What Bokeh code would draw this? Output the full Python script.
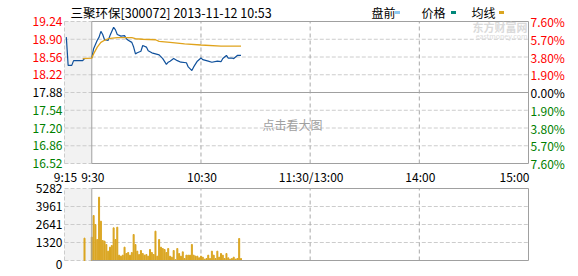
from bokeh.plotting import figure
from bokeh.models import Range1d
from bokeh.core.properties import value
from bokeh.embed import file_html
from bokeh.resources import INLINE

# ---------------- data ----------------
title_text = "三聚环保[300072] 2013-11-12 10:53"
prev_close = 17.88
price_ticks = [19.24, 18.90, 18.56, 18.22, 17.88, 17.54, 17.20, 16.86, 16.52]
pct_labels = ["7.60%", "5.70%", "3.80%", "1.90%", "0.00%", "1.90%", "3.80%", "5.70%", "7.60%"]
vol_ticks = [5282, 3961, 2641, 1320, 0]
time_ticks = [-15, 0, 60, 120, 180, 240]
time_labels = ["9:15", "9:30", "10:30", "11:30/13:00", "14:00", "15:00"]
legend_labels = ["盘前", "价格", "均线"]
legend_colors = ["#8ec8f0", "#00877a", "#daa520"]

pre_minutes = [-14, -13, -11, -10, -5, -4]
pre_prices = [18.94, 18.40, 18.40, 18.49, 18.49, 18.53]

minutes = [0, 1, 3, 4, 5, 6, 7, 9, 10, 12, 13, 14, 16, 18, 19, 20, 22, 23, 24, 25,
           27, 28, 30, 31, 33, 35, 37, 39, 41, 42, 43, 45, 47, 49, 52, 53, 55, 56,
           58, 60, 61, 64, 66, 69, 71, 72, 74, 75, 77, 78, 80, 82]
prices = [18.54, 18.72, 18.88, 18.94, 19.05, 18.99, 18.89, 18.88, 18.97, 19.13,
          19.08, 18.99, 18.96, 18.97, 18.91, 18.88, 18.84, 18.75, 18.62, 18.64,
          18.67, 18.78, 18.75, 18.68, 18.64, 18.62, 18.60, 18.53, 18.42, 18.46,
          18.48, 18.53, 18.49, 18.46, 18.45, 18.37, 18.30, 18.37, 18.48, 18.54,
          18.51, 18.48, 18.46, 18.48, 18.47, 18.53, 18.59, 18.54, 18.54, 18.53,
          18.59, 18.59]

avg_minutes = [-5, 0, 1, 3, 5, 7, 9, 14, 22, 24, 28, 35, 37, 43, 51, 60, 71, 82]
avg_prices = [18.53, 18.54, 18.62, 18.75, 18.84, 18.88, 18.91, 18.93, 18.93, 18.91,
              18.90, 18.89, 18.86, 18.84, 18.81, 18.79, 18.77, 18.77]

pre_vol_minutes = [-4]
pre_volumes = [1640]
volumes = [1712, 3301, 2641, 1540, 4646, 2885, 1467, 1418, 1174, 685,
           978, 1100, 2396, 1540, 2445, 391, 318, 391, 978, 513,
           587, 391, 587, 1907, 1174, 685, 440, 733, 513, 391,
           440, 318, 807, 587, 440, 2152, 318, 1540, 978, 880,
           807, 587, 880, 318, 245, 733, 60, 880, 513, 318,
           636, 147, 391, 391, 391, 1174, 391, 318, 318, 200,
           318, 245, 98, 147, 391, 147, 685, 391, 147, 685,
           245, 513, 391, 147, 513, 196, 98, 147, 245, 98,
           147, 1614, 147]
vol_minutes = list(range(len(volumes)))

# ---------------- layout (pixels) ----------------
W, H = 578, 276
FX0, FX1 = 64, 528          # frame left/right pixel of minute range
M0, M1 = time_ticks[0], time_ticks[-1]
PY0, PY1 = 21, 163          # price panel top/bottom pixel
VY0, VY1 = 188, 260         # volume panel top/bottom pixel

mpp = (M1 - M0) / (FX1 - FX0)
x_start = M0 - FX0 * mpp
x_end = M1 + (W - FX1) * mpp
pu = (price_ticks[0] - price_ticks[-1]) / (PY1 - PY0)
y_top = price_ticks[0] + PY0 * pu
y_bot = price_ticks[-1] - (H - PY1) * pu
vu = (vol_ticks[0] - vol_ticks[-1]) / (VY1 - VY0)
v_top = vol_ticks[0] + VY0 * vu
v_bot = vol_ticks[-1] - (H - VY1) * vu


def mx(px):
    return x_start + px * mpp


def py(px):
    return y_top - px * pu


def vy(px):
    return v_top - px * vu


FONT = value("Noto Sans CJK SC")
BORDER = "#a0a0a0"
GRID = "#cccccc"
VGRID = "#a8a8a8"

p = figure(width=W, height=H, x_range=Range1d(x_start, x_end),
           y_range=Range1d(y_bot, y_top), x_axis_type=None, y_axis_type=None,
           min_border=0, toolbar_location=None, output_backend="svg",
           outline_line_color=None, background_fill_color="white",
           border_fill_color="white")
p.extra_y_ranges = {"vol": Range1d(v_bot, v_top)}

ptop, pbot = price_ticks[0], price_ticks[-1]
vtop, vbot = vol_ticks[0], vol_ticks[-1]

# pre-market shading
p.quad(left=[M0], right=[0], top=[ptop], bottom=[pbot], fill_color="#f2f2f2", line_color=None)
p.quad(left=[M0], right=[0], top=[vtop], bottom=[vbot], fill_color="#f2f2f2", line_color=None,
       y_range_name="vol")

# price grid
inner = [t for t in price_ticks[1:-1] if t != prev_close]
p.segment(x0=[M0] * len(price_ticks), x1=[0] * len(price_ticks), y0=price_ticks, y1=price_ticks,
          line_color=GRID, line_dash="4 2", line_width=1)
p.segment(x0=[0] * len(inner), x1=[M1] * len(inner), y0=inner, y1=inner,
          line_color=GRID, line_dash="4 2", line_width=1)
p.segment(x0=[M0], x1=[M0], y0=[pbot], y1=[ptop], line_color=GRID, line_dash="4 2")
p.segment(x0=[60, 120, 180], x1=[60, 120, 180], y0=[pbot] * 3, y1=[ptop] * 3,
          line_color=VGRID, line_dash="4 3", line_width=1)
p.segment(x0=[0, 0, 0, M1, 0], x1=[M1, M1, 0, M1, M1], y0=[ptop, pbot, pbot, pbot, prev_close],
          y1=[ptop, pbot, ptop, ptop, prev_close], line_color=BORDER, line_width=1)

# volume grid
vinner = vol_ticks[1:-1]
p.segment(x0=[M0] * len(vol_ticks), x1=[0] * len(vol_ticks), y0=vol_ticks, y1=vol_ticks,
          line_color=GRID, line_dash="4 2", y_range_name="vol")
p.segment(x0=[0] * len(vinner), x1=[M1] * len(vinner), y0=vinner, y1=vinner,
          line_color=GRID, line_dash="4 2", y_range_name="vol")
p.segment(x0=[M0], x1=[M0], y0=[vbot], y1=[vtop], line_color=GRID, line_dash="4 2",
          y_range_name="vol")
p.segment(x0=[60, 120, 180], x1=[60, 120, 180], y0=[vbot] * 3, y1=[vtop] * 3,
          line_color=VGRID, line_dash="4 3", y_range_name="vol")

# volume bars
p.vbar(x=pre_vol_minutes, top=pre_volumes, bottom=0, width=0.55, color="#daa520",
       y_range_name="vol")
p.vbar(x=vol_minutes, top=volumes, bottom=0, width=0.55, color="#daa520", y_range_name="vol")

p.segment(x0=[0, 0, 0, M1], x1=[M1, M1, 0, M1], y0=[vtop, vbot, vbot, vbot],
          y1=[vtop, vbot, vtop, vtop], line_color=BORDER, line_width=1, y_range_name="vol")

# price lines
p.line(pre_minutes, pre_prices, line_color="#10519c", line_width=1.2)
p.line(minutes, prices, line_color="#10519c", line_width=1.2)
p.line(avg_minutes, avg_prices, line_color="#e0a31c", line_width=1.3)

# left price labels
colors = ["#ff0000" if t > prev_close else ("#000000" if t == prev_close else "#008000")
          for t in price_ticks]
p.text(x=[mx(62)] * len(price_ticks), y=price_ticks, text=[f"{t:.2f}" for t in price_ticks],
       text_color=colors, text_font=FONT, text_font_size="12px", text_align="right",
       text_baseline="middle")
# right pct labels
p.text(x=[mx(530)] * len(pct_labels), y=price_ticks, text=pct_labels,
       text_color=colors, text_font=FONT, text_font_size="12px", text_align="left",
       text_baseline="middle")
# volume labels
vlab_y = [t if t != 0 else vy(264) for t in vol_ticks]
p.text(x=[mx(62)] * len(vol_ticks), y=vlab_y, text=[str(t) for t in vol_ticks],
       text_color="#000000", text_font=FONT, text_font_size="12px", text_align="right",
       text_baseline="middle", y_range_name="vol")
# time labels
tx = [mx(FX0 + 1 + (t - M0) / mpp) for t in time_ticks[:-1]] + [mx(529)]
aligns = ["center"] * (len(time_ticks) - 1) + ["right"]
p.text(x=tx, y=[py(176)] * len(time_ticks), text=time_labels, text_color="#000000",
       text_font=FONT, text_font_size="12px", text_align=aligns, text_baseline="middle")

# title
p.text(x=[mx(70)], y=[py(12)], text=[title_text], text_color="#000000", text_font=FONT,
       text_font_size="12.5px", text_align="left", text_baseline="middle")
# legend
p.text(x=[mx(371), mx(421), mx(471)], y=[py(12)] * 3, text=legend_labels, text_color="#000000",
       text_font=FONT, text_font_size="12px", text_align="left", text_baseline="middle")
p.rect(x=[mx(397), mx(453), mx(501)], y=[py(12)] * 3, width=5, height=3,
       width_units="screen", height_units="screen", fill_color=legend_colors, line_color=None)

# watermarks
p.text(x=[mx(262)], y=[py(124)], text=["点击看大图"], text_color="#a0a0a0", text_font=FONT,
       text_font_size="12px", text_align="left", text_baseline="middle")
p.text(x=[mx(527)], y=[py(26)], text=["东方财富网"], text_color="#dadada", text_font=FONT,
       text_font_size="11px", text_font_style="bold", text_align="right", text_baseline="middle")
p.text(x=[mx(527)], y=[py(35)], text=["eastmoney.com"], text_color="#dadada", text_font=FONT,
       text_font_size="7px", text_align="right", text_baseline="middle")

open("out.html", "w").write(file_html(p, INLINE))
